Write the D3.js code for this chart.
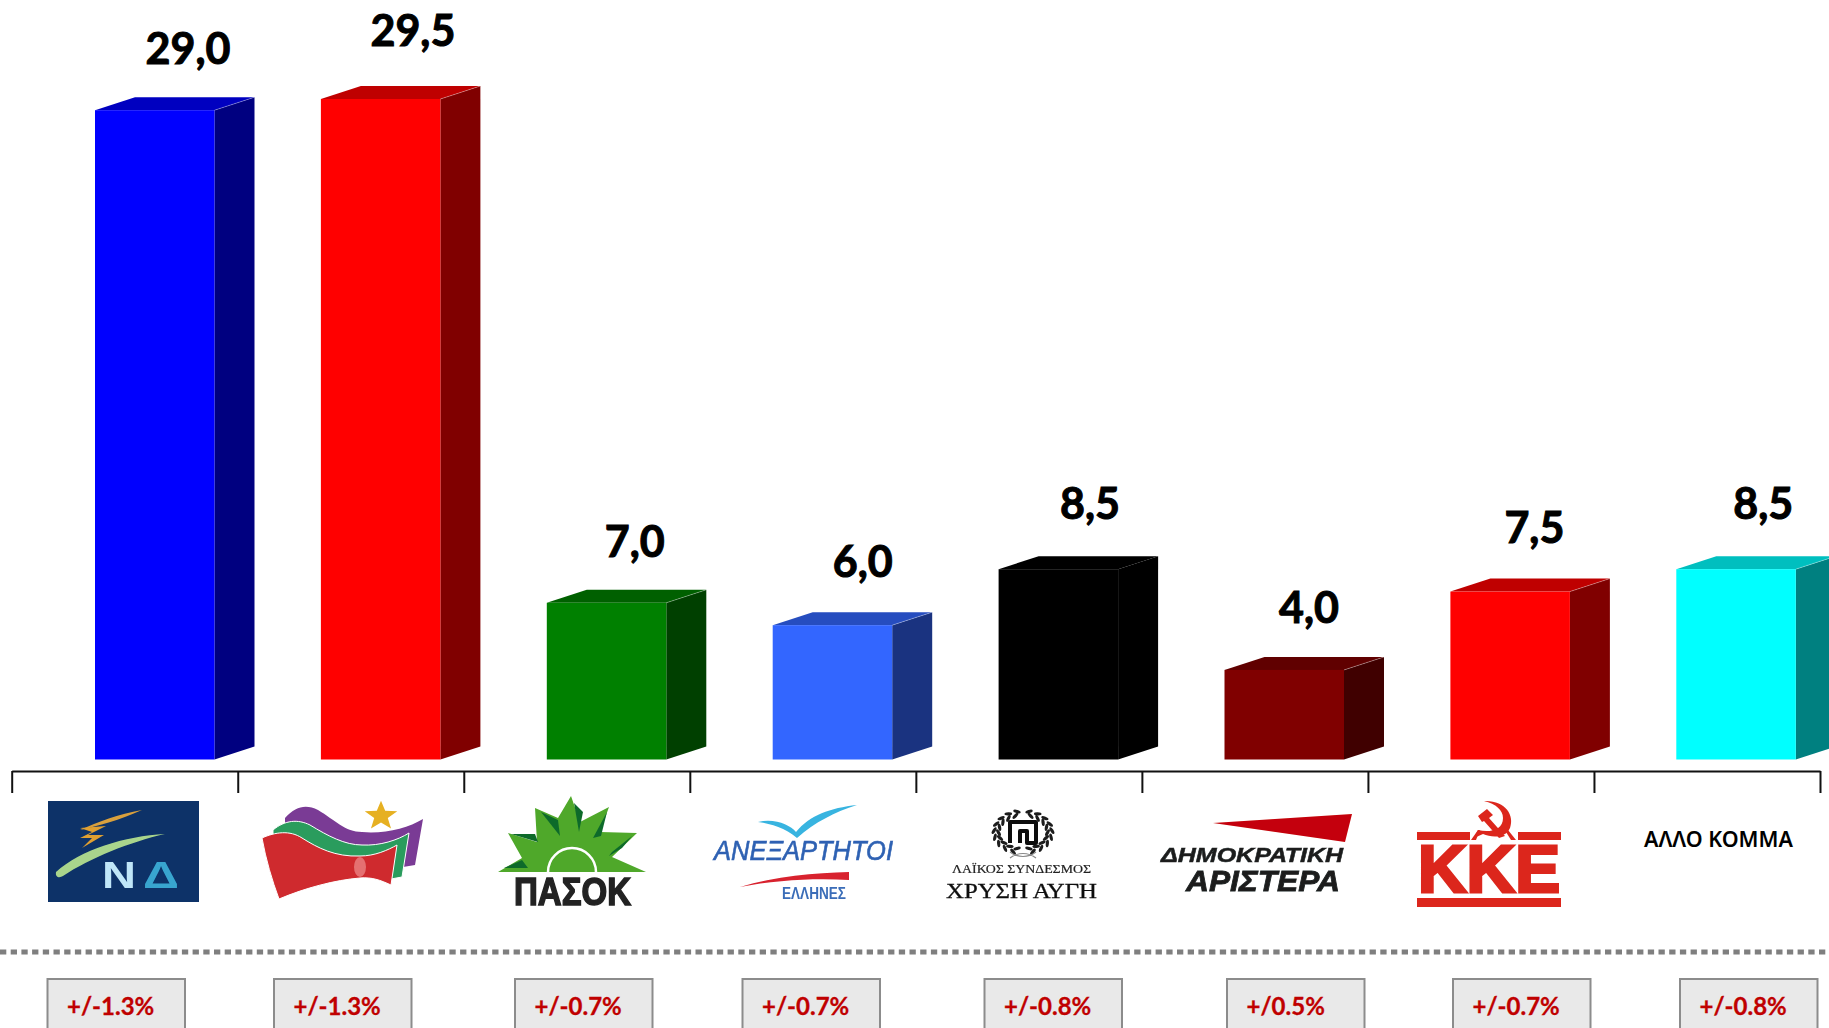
<!DOCTYPE html>
<html><head><meta charset="utf-8">
<script src="https://cdn.jsdelivr.net/npm/d3@7/dist/d3.min.js"></script>
<style>html,body{margin:0;padding:0;background:#fff;overflow:hidden}svg{display:block}</style>
</head><body><div id="c"></div>
<script>
const categories=["ΝΔ","ΣΥΡΙΖΑ","ΠΑΣΟΚ","ΑΝΕΞΑΡΤΗΤΟΙ ΕΛΛΗΝΕΣ","ΧΡΥΣΗ ΑΥΓΗ","ΔΗΜΟΚΡΑΤΙΚΗ ΑΡΙΣΤΕΡΑ","ΚΚΕ","ΑΛΛΟ ΚΟΜΜΑ"];
const values=[29.0,29.5,7.0,6.0,8.5,4.0,7.5,8.5];
const frontColors=["#0000ff","#ff0000","#008000","#3366ff","#000000","#800000","#ff0000","#00ffff"];
const topColors=["#0000c0","#bf0000","#006000","#264dbf","#000000","#600000","#bf0000","#00bfbf"];
const sideColors=["#000080","#800000","#004000","#1a3380","#000000","#400000","#800000","#008080"];
const margins=["+/-1.3%","+/-1.3%","+/-0.7%","+/-0.7%","+/-0.8%","+/0.5%","+/-0.7%","+/-0.8%"];
// label placement nudges (layout only)
const labelDx=[93,92,88,90,91.5,84.5,84,87];
const labelGap=[46,53,46,48,50,47,48.5,50];
const boxLeft=[47.5,274,515,742.5,984.5,1227,1453,1680];

const W=1829,H=1028,depthX=40,depthY=13,step=225.9,barW=119.5;
const svg=d3.select("#c").append("svg").attr("width",W).attr("height",H).attr("viewBox",[0,0,W,H]);
const defs=svg.append("defs");
defs.append("filter").attr("id","soft").append("feGaussianBlur").attr("stdDeviation",0.55);

const x=d3.scaleBand().domain(categories).range([95,95+7*step+barW]).paddingInner(1-barW/step).paddingOuter(0).align(0);
const y=d3.scaleLinear().domain([0,29.5]).range([759.5,99]);
const tickX=d3.scaleLinear().domain([0,8]).range([11.7,1820]);

const bars=svg.append("g").selectAll("g").data(categories).join("g");
const bw=x.bandwidth();
const pts=a=>a.map(p=>p.join(",")).join(" ");
bars.append("polygon").attr("fill",(d,i)=>sideColors[i]).attr("points",(d,i)=>{const r=x(d)+bw,t=y(values[i]),b=y(0);
  return pts([[r,t],[r+depthX,t-depthY],[r+depthX,b-depthY],[r,b]]);});
bars.append("polygon").attr("fill",(d,i)=>topColors[i]).attr("points",(d,i)=>{const l=x(d),r=l+bw,t=y(values[i]);
  return pts([[l,t],[l+depthX,t-depthY],[r+depthX,t-depthY],[r,t]]);});
bars.append("rect").attr("fill",(d,i)=>frontColors[i]).attr("x",d=>x(d)).attr("width",bw)
  .attr("y",(d,i)=>y(values[i])).attr("height",(d,i)=>y(0)-y(values[i]));
bars.append("line").attr("stroke","#fff").attr("stroke-opacity",(d,i)=>i==4?0:0.3).attr("stroke-width",1)
  .attr("x1",d=>x(d)+bw).attr("y1",(d,i)=>y(values[i])).attr("x2",d=>x(d)+bw+depthX).attr("y2",(d,i)=>y(values[i])-depthY);

svg.append("g").selectAll("text").data(categories).join("text")
  .attr("x",(d,i)=>x(d)+labelDx[i]).attr("y",(d,i)=>y(values[i])-labelGap[i])
  .attr("text-anchor","middle").attr("font-family","Lato, 'Open Sans', sans-serif").attr("font-weight",700).attr("font-size",43).attr("fill","#000").attr("stroke","#000").attr("stroke-width",1)
  .text((d,i)=>d3.format(".1f")(values[i]).replace(".",","));

const axis=d3.axisBottom(tickX).tickValues(d3.range(9)).tickFormat("").tickSize(22).tickSizeOuter(0);
const ax=svg.append("g").attr("transform","translate(0,771)").call(axis);
ax.selectAll("path,line").attr("stroke","#111").attr("stroke-width",2);

// dotted separator
svg.append("line").attr("x1",0).attr("x2",W).attr("y1",952).attr("y2",952).attr("stroke","#7f7f7f").attr("stroke-width",5).attr("stroke-dasharray","6.3 4.4");

// margin boxes
const boxes=svg.append("g").selectAll("g").data(margins).join("g");
boxes.append("rect").attr("x",(d,i)=>boxLeft[i]).attr("y",979).attr("width",137.5).attr("height",70).attr("fill","#e9e9e9").attr("stroke","#8c8c8c").attr("stroke-width",2);
boxes.append("text").attr("x",(d,i)=>boxLeft[i]+19.5).attr("y",1015).attr("font-family","Lato, 'Open Sans', sans-serif").attr("font-weight",700).attr("font-size",24).attr("fill","#c00000").attr("stroke","#c00000").attr("stroke-width",.3).text(d=>d);

// logos
const L=svg.append("g").attr("filter","url(#soft)");
const sans="'Liberation Sans', Arial, sans-serif", serif="'Liberation Serif', serif";
function tx(s,xx,yy,size,len,fill,o={}){const t=L.append("text").attr("x",xx).attr("y",yy).attr("font-size",size).attr("fill",fill)
  .attr("font-family",o.family||sans).attr("font-weight",o.weight||400).attr("font-style",o.style||"normal").text(s);
  if(len)t.attr("textLength",len).attr("lengthAdjust","spacingAndGlyphs");
  if(o.stroke)t.attr("stroke",fill).attr("stroke-width",o.stroke);return t;}
function p(d,fill,o={}){const e=L.append("path").attr("d",d).attr("fill",fill);
  if(o.stroke)e.attr("stroke",o.stroke).attr("stroke-width",o.w||1).attr("stroke-linecap",o.cap||"butt").attr("stroke-linejoin","round");return e;}

// ND
L.append("rect").attr("x",48).attr("y",801).attr("width",151).attr("height",101).attr("fill","#0b3168");
p("M142,810 C118,814 98,822 80,830 C98,826 120,820 142,810Z","#d9a03c");
p("M80,828 L106,826 L88,835 L104,835 L82,848 L92,838 L80,838 L92,832Z","#e0a030");
p("M165,834 C125,836 80,850 56,872 C55,878 60,878 63,876 C90,858 130,842 165,834Z","#a9d58c");
tx("Ν",102,888,37,34,"#bfe6f8",{weight:700});
tx("Δ",143,888,37,36,"#39a5cf",{weight:700});

// SYRIZA
p("M285,818 C296,806 306,804 318,810 C335,820 345,832 362,832 C385,834 408,828 423,819 L415,865 L403,867 L340,860 L285,850Z","#7a3a95");
p("M273,830 C285,820 298,819 310,825 C328,836 345,845 362,845 C380,846 398,840 409,833 L402,877 L391,879 L340,870 L273,860Z","#2b9c5d",{stroke:"#fff",w:1});
p("M262,838 C275,832 290,830 302,838 C318,848 335,857 360,856 C375,856 388,850 397,845 L391,885 C380,880 372,877 360,878 C335,880 305,888 279,899 C272,880 266,860 262,838Z","#cf2a2e",{stroke:"#fff",w:1});
L.append("ellipse").attr("cx",360).attr("cy",867).attr("rx",6).attr("ry",10).attr("fill","#ee8f8f").attr("opacity",.7);
p(d3.range(10).map(i=>{const r=i%2?7.5:18,a=-Math.PI/2+i*Math.PI/5;return (i?"L":"M")+(381+r*Math.cos(a)*.95)+","+(816+r*Math.sin(a)*.85);}).join("")+"Z","#e6b020");

// PASOK
p("M498,872 L522,858 L508,833 L537,842 L535,808 L558,818 L571,796 L580,822 L609,807 L600,832 L637,833 L612,857 L646,872Z","#4fa82a");
p("M548,872 A24,24 0 0 1 596,872","none",{stroke:"#fff",w:2.5});
p("M541,812 L558,820 L560,836Z M574,803 L583,812 L579,832Z M607,812 L601,836 L593,838Z M511,834 L535,834 L538,842Z M632,836 L612,852 L609,856 L622,848Z M504,868 L522,860 L528,868Z","#0f6b2b");
tx("ΠΑΣΟΚ",514,905,38,117,"#222",{weight:700,stroke:1.5});

// ANEL
p("M758,822 C775,818 790,825 796,832 C810,815 830,808 857,805 C835,812 815,822 797,838 C785,828 772,824 758,822Z","#38b4e0");
tx("ΑΝΕΞΑΡΤΗΤΟΙ",714,860,27,179,"#2f62b3",{style:"italic",stroke:.6});
p("M740,887 C775,876 815,873 849,872 L849,880 C815,878 775,880 740,887Z","#d8222e");
tx("ΕΛΛΗΝΕΣ",782,899,16,64,"#3a6db8",{weight:700});

// Golden Dawn wreath: leaves tangent to a ring
const leaf=L.append("g").attr("fill","#1a1a1a");
[[29,21,-28],[24.5,17,28]].forEach(([rx,ry,tilt],k)=>{
  d3.range(9).forEach(j=>{[1,-1].forEach(s=>{
    const deg=12+j*18.5+(k?6:0), a=deg*Math.PI/180;
    const cx=1023+s*rx*Math.sin(a), cy=832-ry*Math.cos(a);
    leaf.append("ellipse").attr("cx",cx).attr("cy",cy).attr("rx",3.8).attr("ry",1.6)
      .attr("transform",`rotate(${s*(deg+tilt)} ${cx} ${cy})`);
  });});
});
p("M1010,843 V822 H1036 V843 H1027 V831 H1020 V843","none",{stroke:"#111",w:4});
p("M1010,858 C1018,852 1028,852 1036,858 M1010,852 C1018,858 1028,858 1036,852","none",{stroke:"#888",w:1.2});
tx("ΛΑΪΚΟΣ ΣΥΝΔΕΣΜΟΣ",952,873,12,139,"#222",{family:serif,stroke:.2});
tx("ΧΡΥΣΗ ΑΥΓΗ",946,898,20,151,"#111",{family:serif,stroke:.3});

// DIMAR
p("M1213,823 L1352,814 L1345,842Z","#c40008");
tx("ΔΗΜΟΚΡΑΤΙΚΗ",1161,862,20,182,"#1b1f1f",{weight:700,style:"italic",stroke:.5});
tx("ΑΡΙΣΤΕΡΑ",1186,891,30,154,"#1b1f1f",{weight:700,style:"italic",stroke:.8});

// KKE
const red="#dc281e";
L.append("rect").attr("x",1417).attr("y",832).attr("width",144).attr("height",8).attr("fill",red);
L.append("rect").attr("x",1417).attr("y",898).attr("width",144).attr("height",9).attr("fill",red);
L.append("rect").attr("x",1470).attr("y",828).attr("width",48).attr("height",14).attr("fill","#fff");
tx("ΚΚΕ",1418,892,66,142,red,{weight:700,stroke:3});
p("M1484,801 C1505,800 1515,815 1510,828 C1506,838 1492,838 1483,834 L1474,838 L1478,830 C1490,833 1503,830 1503,818 C1503,810 1496,804 1484,801Z",red);
p("M1478,816 L1487,809 L1493,815 L1489,818 L1505,836 L1499,838 L1484,821 L1482,822Z",red);
p("M1471,840 L1478,830 L1480,830 L1476,840Z M1516,840 L1508,830 L1506,832 L1511,840Z",red);

// other
svg.append("text").attr("x",1644).attr("y",847).attr("font-family","'Noto Sans','Open Sans',sans-serif").attr("font-weight",600).attr("font-size",22).attr("fill","#000").attr("textLength",149).attr("lengthAdjust","spacingAndGlyphs").text("ΑΛΛΟ ΚΟΜΜΑ");
</script></body></html>
